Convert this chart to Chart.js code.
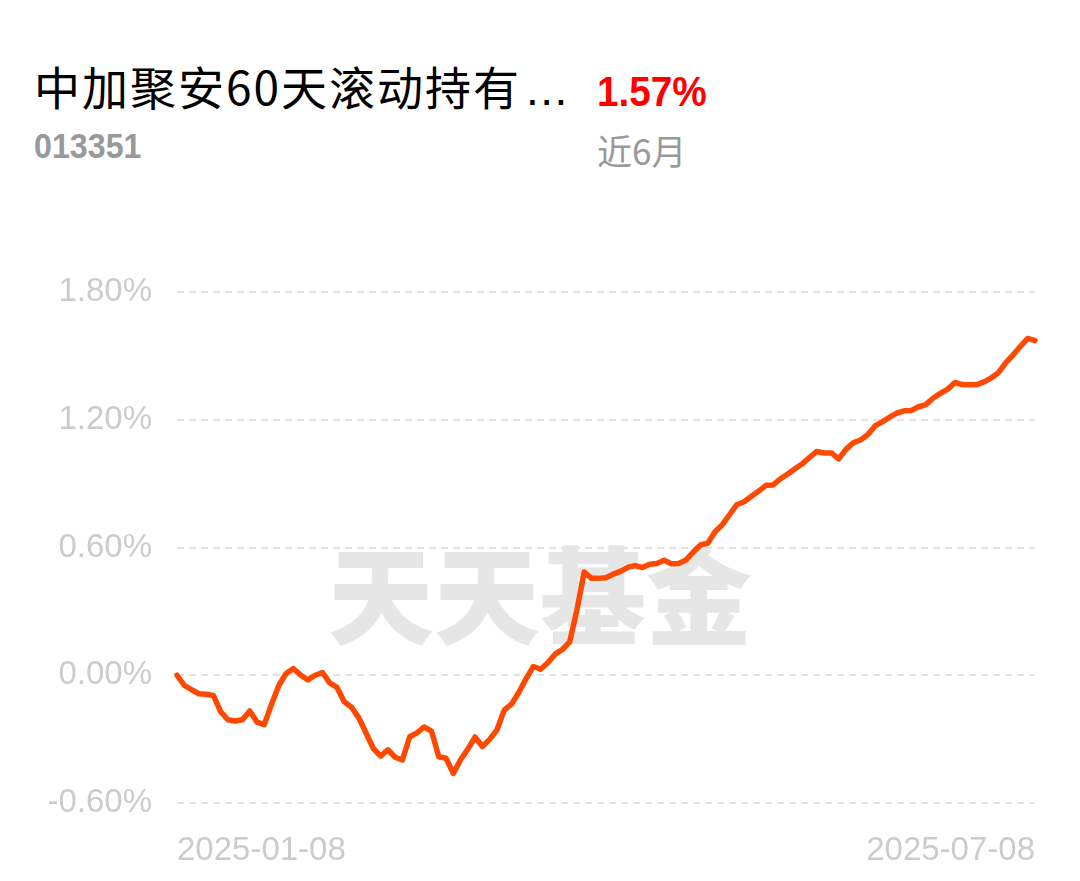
<!DOCTYPE html>
<html>
<head>
<meta charset="utf-8">
<script src="https://cdn.jsdelivr.net/npm/chart.js@4.4.1/dist/chart.umd.min.js"></script>
<style>
  html, body { margin: 0; padding: 0; background: #ffffff; }
  body { width: 1080px; height: 881px; position: relative; overflow: hidden; }
  .t { position: absolute; white-space: nowrap; line-height: 1; }
  #title { left: 34px; top: 62px; font-family: "Noto Sans CJK SC", sans-serif; font-size: 46px; color: #000; letter-spacing: 2px; }
  #title .dots { font-family: "Liberation Sans", Arial, sans-serif; letter-spacing: 1.5px; margin-left: 5px; }
  #ret { left: 597px; top: 70px; font-family: "Liberation Sans", Arial, sans-serif; font-weight: bold; font-size: 43px; color: #ff0000; transform: scaleX(0.9); transform-origin: left top; }
  #code { left: 34px; top: 128px; font-family: "Liberation Sans", Arial, sans-serif; font-weight: bold; font-size: 35px; color: #999999; transform: scaleX(0.92); transform-origin: left top; }
  #period { left: 597px; top: 132px; font-family: "Noto Sans CJK SC", sans-serif; font-size: 35px; color: #999999; }
  #wm { left: 540px; top: 590px; transform: translate(-50%, -50%); font-family: "Noto Sans CJK SC", sans-serif; font-weight: 900; font-size: 106px; color: #e6e6e6; }
  #c { position: absolute; left: 0; top: 0; }
</style>
</head>
<body>
<div class="t" id="title">中加聚安60天滚动持有<span class="dots">...</span></div>
<div class="t" id="ret">1.57%</div>
<div class="t" id="code">013351</div>
<div class="t" id="period">近6月</div>
<div class="t" id="wm">天天基金</div>
<canvas id="c" width="1080" height="881"></canvas>
<script>
const dates = [
  "2025-01-08","2025-01-09","2025-01-10","2025-01-13","2025-01-14","2025-01-15","2025-01-16","2025-01-17","2025-01-20","2025-01-21",
  "2025-01-22","2025-01-23","2025-01-24","2025-01-27","2025-02-05","2025-02-06","2025-02-07","2025-02-10","2025-02-11","2025-02-12",
  "2025-02-13","2025-02-14","2025-02-17","2025-02-18","2025-02-19","2025-02-20","2025-02-21","2025-02-24","2025-02-25","2025-02-26",
  "2025-02-27","2025-02-28","2025-03-03","2025-03-04","2025-03-05","2025-03-06","2025-03-07","2025-03-10","2025-03-11","2025-03-12",
  "2025-03-13","2025-03-14","2025-03-17","2025-03-18","2025-03-19","2025-03-20","2025-03-21","2025-03-24","2025-03-25","2025-03-26",
  "2025-03-27","2025-03-28","2025-03-31","2025-04-01","2025-04-02","2025-04-03","2025-04-07","2025-04-08","2025-04-09","2025-04-10",
  "2025-04-11","2025-04-14","2025-04-15","2025-04-16","2025-04-17","2025-04-18","2025-04-21","2025-04-22","2025-04-23","2025-04-24",
  "2025-04-25","2025-04-28","2025-04-29","2025-04-30","2025-05-06","2025-05-07","2025-05-08","2025-05-09","2025-05-12","2025-05-13",
  "2025-05-14","2025-05-15","2025-05-16","2025-05-19","2025-05-20","2025-05-21","2025-05-22","2025-05-23","2025-05-26","2025-05-27",
  "2025-05-28","2025-05-29","2025-05-30","2025-06-03","2025-06-04","2025-06-05","2025-06-06","2025-06-09","2025-06-10","2025-06-11",
  "2025-06-12","2025-06-13","2025-06-16","2025-06-17","2025-06-18","2025-06-19","2025-06-20","2025-06-23","2025-06-24","2025-06-25",
  "2025-06-26","2025-06-27","2025-06-30","2025-07-01","2025-07-02","2025-07-03","2025-07-04","2025-07-07","2025-07-08"
];

const returns = [
  0.000, -0.047, -0.068, -0.087, -0.089, -0.095, -0.171, -0.209, -0.215, -0.209,
  -0.168, -0.220, -0.232, -0.137, -0.048, 0.008, 0.031, 0.001, -0.022, 0.000,
  0.013, -0.036, -0.057, -0.124, -0.150, -0.200, -0.271, -0.344, -0.380, -0.350,
  -0.385, -0.398, -0.289, -0.271, -0.243, -0.262, -0.383, -0.390, -0.461, -0.397,
  -0.347, -0.290, -0.335, -0.301, -0.257, -0.164, -0.136, -0.081, -0.017, 0.041,
  0.028, 0.059, 0.099, 0.121, 0.157, 0.306, 0.485, 0.455, 0.455, 0.458,
  0.475, 0.488, 0.507, 0.515, 0.506, 0.521, 0.525, 0.540, 0.524, 0.525,
  0.541, 0.579, 0.612, 0.620, 0.674, 0.707, 0.755, 0.801, 0.815, 0.841,
  0.865, 0.892, 0.894, 0.923, 0.945, 0.970, 0.993, 1.023, 1.051, 1.044,
  1.044, 1.016, 1.061, 1.092, 1.105, 1.130, 1.171, 1.190, 1.212, 1.231,
  1.242, 1.244, 1.261, 1.271, 1.302, 1.324, 1.344, 1.375, 1.365, 1.364,
  1.365, 1.378, 1.397, 1.422, 1.468, 1.505, 1.545, 1.582, 1.572
];

const yTicks = [-0.6, 0.0, 0.6, 1.2, 1.8];
const xTickLabels = ["2025-01-08", "2025-07-08"];

const tickFont = { family: "'Liberation Sans', Arial, sans-serif", size: 33 };

new Chart(document.getElementById('c'), {
  type: 'line',
  data: {
    labels: dates,
    datasets: [{
      data: returns,
      borderColor: '#ff4800',
      borderWidth: 5.5,
      pointRadius: 0,
      pointHoverRadius: 0,
      tension: 0,
      fill: false,
      borderCapStyle: 'round',
      borderJoinStyle: 'round',
      clip: false
    }]
  },
  options: {
    responsive: false,
    devicePixelRatio: 1,
    animation: false,
    events: [],
    layout: { padding: { left: 0, right: 45, top: 292, bottom: 0 } },
    plugins: { legend: { display: false }, tooltip: { enabled: false } },
    scales: {
      x: {
        type: 'category',
        grid: { display: false, drawTicks: false },
        border: { display: false },
        afterFit: s => { s.height = 78; },
        afterBuildTicks: s => {
          s.ticks = s.ticks.filter(t => xTickLabels.includes(dates[t.value]));
        },
        ticks: {
          autoSkip: false,
          maxRotation: 0,
          align: 'inner',
          padding: 28,
          color: '#cccccc',
          font: tickFont,
          callback: function (v) { return dates[v]; }
        }
      },
      y: {
        min: -0.6,
        max: 1.8,
        afterFit: s => { s.width = 177; },
        afterBuildTicks: s => { s.ticks = yTicks.map(v => ({ value: v })); },
        grid: { color: '#e3e3e3', lineWidth: 2, drawTicks: false },
        border: { display: false, dash: [7, 5] },
        ticks: {
          padding: 25,
          color: '#cccccc',
          font: tickFont,
          callback: v => (Math.abs(v) < 1e-9 ? 0 : v).toFixed(2) + '%'
        }
      }
    }
  }
});
</script>
</body>
</html>
